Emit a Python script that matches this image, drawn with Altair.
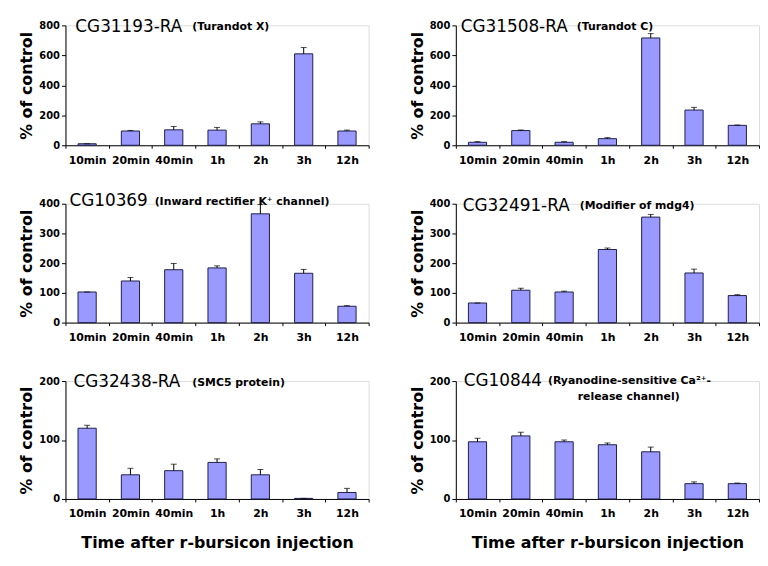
import altair as alt
import pandas as pd

times = ["10min", "20min", "40min", "1h", "2h", "3h", "12h"]

genes = ["CG31193-RA", "CG31508-RA", "CG10369", "CG32491-RA", "CG32438-RA", "CG10844"]
subtitles = [
    ["(Turandot X)"],
    ["(Turandot C)"],
    ["(Inward rectifier K\u207a channel)"],
    ["(Modifier of mdg4)"],
    ["(SMC5 protein)"],
    ["(Ryanodine-sensitive Ca\u00b2\u207a-", "release channel)"],
]

values_1 = [10, 95, 103, 101, 143, 610, 95]
upper_1 = [10, 99, 125, 119, 156, 652, 101]
values_2 = [20, 98, 20, 44, 716, 235, 133]
upper_2 = [24, 102, 24, 51, 745, 253, 135]
values_3 = [103, 140, 178, 184, 366, 166, 55]
upper_3 = [103, 152, 199, 191, 397, 179, 57]
values_4 = [66, 109, 103, 246, 355, 167, 91]
upper_4 = [66, 116, 106, 251, 364, 180, 94]
values_5 = [120, 41, 48, 62, 41, 1, 11]
upper_5 = [125, 52, 59, 68, 50, 1, 18]
values_6 = [97, 107, 97, 92, 80, 26, 26]
upper_6 = [103, 113, 100, 95, 88, 29, 27]

all_values = [values_1, values_2, values_3, values_4, values_5, values_6]
all_upper = [upper_1, upper_2, upper_3, upper_4, upper_5, upper_6]
y_max = [800, 800, 400, 400, 200, 200]
y_ticks = [[0, 200, 400, 600, 800], [0, 200, 400, 600, 800],
           [0, 100, 200, 300, 400], [0, 100, 200, 300, 400],
           [0, 100, 200], [0, 100, 200]]

# annotation placement (plot-area pixels): gene (x, y), subtitle lines [(x, y), ...]
gene_pos = [(10, 7), (5, 7), (4, 2), (7, 7), (8, 6), (8, 5)]
sub_pos = [[(128, 5)], [(122, 5)], [(90, 1)], [(125, 5)], [(128, 5)], [(93, 3), (123, 19)]]

W = 306
row_heights = [121, 121, 120, 120, 119, 119]
FONT = "DejaVu Sans"
BAR_FILL = "#9999FF"
BAR_STROKE = "#1f1f4a"

panels = []
for i in range(6):
    df = pd.DataFrame({"time": times, "value": all_values[i], "upper": all_upper[i]})
    bottom = i >= 4
    x_axis = alt.Axis(
        title="Time after r-bursicon injection" if bottom else None,
        labelAngle=0, tickBand="extent", tickSize=3, labelPadding=6, grid=False,
        labelFont=FONT, labelFontWeight="bold", labelFontSize=11, labelColor="black",
        titleFont=FONT, titleFontWeight="bold", titleFontSize=16, titleColor="black",
        titlePadding=16, domainColor="black", tickColor="black",
    )
    y_axis = alt.Axis(
        title="% of control", values=y_ticks[i], tickSize=4, labelPadding=2, grid=False,
        labelFont=FONT, labelFontWeight="bold", labelFontSize=10, labelColor="black",
        titleFont=FONT, titleFontWeight="bold", titleFontSize=16, titleColor="black",
        titlePadding=4, domainColor="black", tickColor="black", labelOverlap=False,
    )
    x_enc = alt.X("time:N", sort=times, scale=alt.Scale(paddingInner=0, paddingOuter=0),
                  axis=x_axis)
    y_scale = alt.Scale(domain=[0, y_max[i]], nice=False)
    base = alt.Chart(df)
    bars = base.mark_bar(fill=BAR_FILL, stroke=BAR_STROKE, strokeWidth=1,
                         width=alt.RelativeBandSize(0.42)).encode(
        x=x_enc, y=alt.Y("value:Q", scale=y_scale, axis=y_axis))
    rule = base.mark_rule(color="black", strokeWidth=1).encode(
        x=x_enc, y=alt.Y("value:Q", scale=y_scale, axis=y_axis), y2="upper:Q")
    cap = base.mark_tick(color="black", size=6, thickness=1).encode(
        x=x_enc, y=alt.Y("upper:Q", scale=y_scale, axis=y_axis))
    layers = [bars, rule, cap]
    gx, gy = gene_pos[i]
    gene_txt = alt.Chart(pd.DataFrame({"t": [genes[i]]})).mark_text(
        align="left", baseline="alphabetic", font=FONT, fontSize=17, color="black"
    ).encode(text="t:N", x=alt.value(gx), y=alt.value(gy))
    layers.append(gene_txt)
    for line, (sx, sy) in zip(subtitles[i], sub_pos[i]):
        layers.append(alt.Chart(pd.DataFrame({"t": [line]})).mark_text(
            align="left", baseline="alphabetic", font=FONT, fontSize=11,
            fontWeight="bold", color="black"
        ).encode(text="t:N", x=alt.value(sx), y=alt.value(sy)))
    panels.append(alt.layer(*layers).properties(width=W, height=row_heights[i]))

chart = alt.concat(*panels, columns=2, spacing={"row": 59, "column": 88}, bounds="flush").properties(
    padding={"left": 10, "right": 0, "top": 7, "bottom": 0}
).configure_view(stroke=None).configure_axis(
    grid=False
).configure(background="white")

chart.save("out.html", embed_options={"renderer": "svg", "actions": False})
